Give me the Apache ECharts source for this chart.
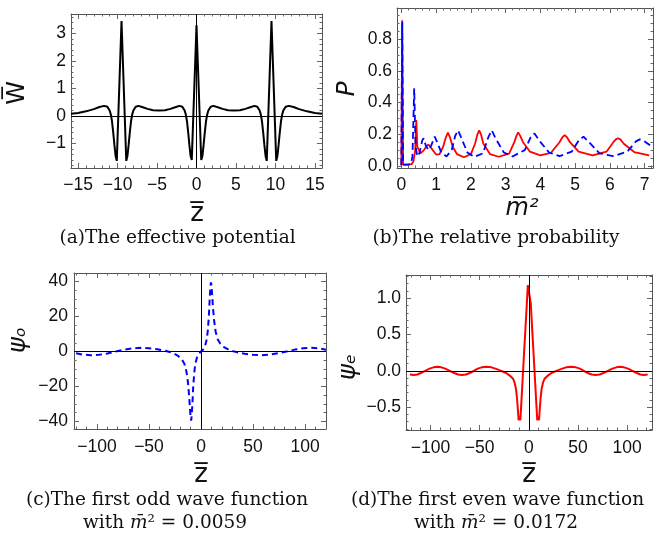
<!DOCTYPE html>
<html><head><meta charset="utf-8">
<script src="https://cdn.jsdelivr.net/npm/echarts@6/dist/echarts.min.js"></script>
<style>html,body{margin:0;padding:0;background:#fff}#c{width:665px;height:539px}</style>
</head><body><div id="c"></div>
<script>
// ---------- (a) effective potential ----------
const potential = [
 [-15.9,0.08],[-15,0.11],[-14,0.17],[-13,0.25],[-12.3,0.33],[-11.7,0.37],[-11.3,0.34],[-11.0,0.2],[-10.85,0.05],[-10.7,-0.2],[-10.55,-0.6],[-10.4,-1.05],[-10.25,-1.45],[-10.1,-1.63],
 [-9.5,3.45],
 [-8.9,-1.63],[-8.75,-1.45],[-8.6,-1.05],[-8.45,-0.6],[-8.3,-0.2],[-8.15,0.05],[-8.0,0.2],[-7.7,0.34],[-7.35,0.37],[-6.9,0.33],[-6.2,0.26],[-5.5,0.21],[-4.75,0.2],
 [-4.0,0.21],[-3.3,0.26],[-2.6,0.33],[-2.15,0.37],[-1.8,0.34],[-1.5,0.2],[-1.35,0.05],[-1.2,-0.2],[-1.05,-0.6],[-0.9,-1.05],[-0.75,-1.45],[-0.6,-1.6],
 [0,3.3],
 [0.6,-1.6],[0.75,-1.45],[0.9,-1.05],[1.05,-0.6],[1.2,-0.2],[1.35,0.05],[1.5,0.2],[1.8,0.34],[2.15,0.37],[2.6,0.33],[3.3,0.26],[4.0,0.21],
 [4.75,0.2],[5.5,0.21],[6.2,0.26],[6.9,0.33],[7.35,0.37],[7.7,0.34],[8.0,0.2],[8.15,0.05],[8.3,-0.2],[8.45,-0.6],[8.6,-1.05],[8.75,-1.45],[8.9,-1.63],
 [9.5,3.45],
 [10.1,-1.63],[10.25,-1.45],[10.4,-1.05],[10.55,-0.6],[10.7,-0.2],[10.85,0.05],[11.0,0.2],[11.3,0.34],[11.7,0.37],[12.3,0.33],[13,0.25],[14,0.17],[15,0.11],[15.9,0.08]
];
const aXTicks = [-15,-10,-5,0,5,10,15];
const aXLabels = ['\u221215','\u221210','\u22125','0','5','10','15'];
const aYTicks = [-1,0,1,2,3];
const aYLabels = ['\u22121','0','1','2','3'];

// ---------- (b) relative probability ----------
const probEven = [
 [0,0.005],[0.025,0.92],[0.05,0.008],[0.1,0.005],[0.2,0.008],[0.3,0.012],[0.35,0.03],[0.4,0.1],[0.43,0.29],[0.46,0.12],[0.55,0.08],[0.65,0.1],[0.72,0.125],[0.78,0.135],[0.84,0.12],[0.92,0.095],
 [1.0,0.072],[1.1,0.075],[1.2,0.12],[1.28,0.18],[1.34,0.21],[1.4,0.18],[1.48,0.12],[1.6,0.075],[1.8,0.055],[2.0,0.075],[2.12,0.14],[2.19,0.2],[2.24,0.225],[2.29,0.2],[2.36,0.14],[2.55,0.075],[2.8,0.058],
 [3.1,0.078],[3.25,0.15],[3.31,0.19],[3.36,0.212],[3.42,0.19],[3.5,0.15],[3.7,0.09],[4.0,0.067],[4.3,0.082],[4.55,0.15],[4.63,0.18],[4.7,0.195],[4.77,0.18],[4.85,0.15],[5.1,0.09],[5.5,0.067],
 [5.9,0.09],[6.1,0.15],[6.17,0.168],[6.23,0.175],[6.3,0.168],[6.4,0.14],[6.7,0.088],[7.13,0.067]
];
const probOdd = [
 [0,0.005],[0.025,0.91],[0.05,0.008],[0.1,0.005],[0.2,0.008],[0.28,0.015],[0.32,0.06],[0.37,0.49],[0.41,0.12],[0.46,0.06],[0.52,0.08],[0.6,0.16],[0.64,0.175],
 [0.7,0.13],[0.78,0.1],[0.86,0.13],[0.96,0.185],[1.05,0.14],[1.15,0.085],[1.3,0.06],[1.45,0.1],[1.55,0.19],[1.63,0.225],[1.72,0.18],[1.9,0.085],[2.1,0.057],
 [2.35,0.08],[2.5,0.18],[2.6,0.225],[2.72,0.17],[2.95,0.085],[3.2,0.06],[3.55,0.1],[3.72,0.18],[3.83,0.205],[3.97,0.16],[4.25,0.085],[4.55,0.062],
 [4.9,0.09],[5.1,0.16],[5.24,0.185],[5.4,0.15],[5.7,0.08],[6.1,0.062],[6.5,0.09],[6.75,0.155],[6.86,0.168],[7.0,0.155],[7.16,0.13]
];
const bXTicks = [0,1,2,3,4,5,6,7];
const bXLabels = ['0','1','2','3','4','5','6','7'];
const bYTicks = [0,0.2,0.4,0.6,0.8];
const bYLabels = ['0.0','0.2','0.4','0.6','0.8'];

// ---------- (c) first odd wave function ----------
const psiOdd = [
 [-120,-1.0],[-113,-1.8],[-106,-2.1],[-98,-1.9],[-90,-1.1],[-82,0],[-74,1.0],[-66,1.8],[-58,2.1],[-50,1.9],[-42,1.3],[-35,0.5],[-30,-0.3],[-26,-1.2],
 [-22,-2.5],[-18.5,-4.5],[-16,-7],[-14,-11.5],[-12.5,-18],[-11.5,-25],[-10.7,-32],[-10,-38],[-9.5,-39.5],[-9,-37],[-8.3,-30],[-7.5,-20],[-6.5,-12],
 [-5.5,-7],[-4,-3.5],[-2,-1.2],[0,0],
 [2,1.2],[4,3.5],[5.5,7],[6.5,12],[7.5,20],[8.3,30],[9,37],[9.5,39.5],[10,38],[10.7,32],[11.5,25],[12.5,18],[14,11.5],[16,7],[18.5,4.5],[22,2.5],
 [26,1.2],[30,0.3],[35,-0.5],[42,-1.3],[50,-1.9],[58,-2.1],[66,-1.8],[74,-1.0],[82,0],[90,1.1],[98,1.9],[106,2.1],[113,1.8],[120,1.0]
];
const cXTicks = [-100,-50,0,50,100];
const cXLabels = ['\u2212100','\u221250','0','50','100'];
const cYTicks = [-40,-20,0,20,40];
const cYLabels = ['\u221240','\u221220','0','20','40'];

// ---------- (d) first even wave function ----------
const psiEven = [
 [-121,-0.05],[-117,-0.058],[-113.5,-0.05],[-110,-0.03],[-105.5,0],[-101,0.03],[-97,0.048],[-93,0.055],[-89,0.048],[-85,0.03],[-80.5,0],[-76,-0.03],
 [-72,-0.05],[-68,-0.058],[-64,-0.05],[-60,-0.03],[-56,0],[-52,0.03],[-48,0.048],[-43,0.055],[-38,0.048],[-34,0.03],[-30,0.01],[-28,0],[-23,-0.03],
 [-19,-0.07],[-16,-0.11],[-14.5,-0.16],[-13,-0.25],[-12,-0.38],[-11.2,-0.52],[-10.4,-0.68],[-9.5,-0.63],[-8.6,-0.68],[-6.5,-0.17],[-5,0.2],[-3.5,0.56],
 [-2,0.93],[-1,1.18],[0,1.19],[1,1.18],[2,0.93],[3.5,0.56],[5,0.2],[6.5,-0.17],[8.6,-0.68],[9.5,-0.63],[10.4,-0.68],[11.2,-0.52],[12,-0.38],[13,-0.25],
 [14.5,-0.16],[16,-0.11],[19,-0.07],[23,-0.03],[28,0],[30,0.01],[34,0.03],[38,0.048],[43,0.055],[48,0.048],[52,0.03],[56,0],[60,-0.03],[64,-0.05],
 [68,-0.058],[72,-0.05],[76,-0.03],[80.5,0],[85,0.03],[89,0.048],[93,0.055],[97,0.048],[101,0.03],[105.5,0],[110,-0.03],[113.5,-0.05],[117,-0.058],[121,-0.05]
];
const dXTicks = [-100,-50,0,50,100];
const dXLabels = ['\u2212100','\u221250','0','50','100'];
const dYTicks = [-0.5,0,0.5,1.0];
const dYLabels = ['\u22120.5','0.0','0.5','1.0'];

// ---------- layout / styling ----------
const FRAME = '#555';
const TICKC = '#666';
const LABEL_FONT = 'Liberation Sans';
const NAME_FONT = 'DejaVu Sans';
const grids = [
 {left:71, top:14, width:251, height:154},
 {left:397, top:8, width:256, height:160},
 {left:74, top:273, width:252, height:156},
 {left:406, top:275, width:246, height:155}
];

function minorVals(min, max, step) {
  const out = [];
  const start = Math.ceil(min / step - 1e-9);
  for (let k = start; k * step <= max + 1e-9; k++) out.push(+(k * step).toFixed(6));
  return out;
}
function makeAxes(dim, g, cfg) {
  const pos = dim === 'x' ? ['bottom', 'top'] : ['left', 'right'];
  const minors = minorVals(cfg.min, cfg.max, cfg.minor);
  const base = {type:'value', gridIndex:g, min:cfg.min, max:cfg.max, splitLine:{show:false}, scale:true};
  const fmt = (v) => {
    let best = 0, bd = Infinity;
    cfg.ticks.forEach((t, i) => { const d = Math.abs(t - v); if (d < bd) { bd = d; best = i; } });
    return cfg.labels[best];
  };
  return [
    Object.assign({}, base, {
      position: pos[0],
      axisLine:{show:true, onZero:false, lineStyle:{color:FRAME, width:1}},
      axisTick:{show:true, inside:true, length:5, customValues:cfg.ticks, lineStyle:{color:TICKC, width:1}},
      axisLabel:{show:true, customValues:cfg.ticks, formatter:fmt, margin:cfg.margin, fontSize:17.5, fontFamily:LABEL_FONT, color:'#111'}
    }),
    Object.assign({}, base, {
      position: pos[1],
      axisLine:{show:true, onZero:false, lineStyle:{color:FRAME, width:1}},
      axisTick:{show:true, inside:true, length:5, customValues:cfg.ticks, lineStyle:{color:TICKC, width:1}},
      axisLabel:{show:false}
    }),
    Object.assign({}, base, {
      position: pos[0],
      axisLine:{show:false, onZero:false},
      axisTick:{show:true, inside:true, length:2.5, customValues:minors, lineStyle:{color:TICKC, width:1}},
      axisLabel:{show:false}
    }),
    Object.assign({}, base, {
      position: pos[1],
      axisLine:{show:false, onZero:false},
      axisTick:{show:true, inside:true, length:2.5, customValues:minors, lineStyle:{color:TICKC, width:1}},
      axisLabel:{show:false}
    })
  ];
}

const xAxes = [].concat(
  makeAxes('x', 0, {min:-15.9, max:15.9, ticks:aXTicks, labels:aXLabels, minor:1, margin:8}),
  makeAxes('x', 1, {min:-0.125, max:7.24, ticks:bXTicks, labels:bXLabels, minor:0.2, margin:8}),
  makeAxes('x', 2, {min:-122, max:120, ticks:cXTicks, labels:cXLabels, minor:10, margin:9}),
  makeAxes('x', 3, {min:-125, max:125.4, ticks:dXTicks, labels:dXLabels, minor:10, margin:9})
);
const yAxes = [].concat(
  makeAxes('y', 0, {min:-1.89, max:3.71, ticks:aYTicks, labels:aYLabels, minor:0.2, margin:5}),
  makeAxes('y', 1, {min:-0.013, max:0.998, ticks:bYTicks, labels:bYLabels, minor:0.05, margin:5}),
  makeAxes('y', 2, {min:-44.3, max:44.9, ticks:cYTicks, labels:cYLabels, minor:5, margin:6}),
  makeAxes('y', 3, {min:-0.815, max:1.32, ticks:dYTicks, labels:dYLabels, minor:0.1, margin:5})
);

const zeroLines = {
  silent:true, symbol:['none','none'], label:{show:false}, animation:false,
  lineStyle:{color:'#000', width:1, type:'solid'},
  data:[{yAxis:0},{xAxis:0}]
};

const series = [
  {type:'line', xAxisIndex:0, yAxisIndex:0, data:potential, showSymbol:false, symbol:'none', lineStyle:{color:'#000', width:2}, markLine:zeroLines, z:3},
  {type:'line', xAxisIndex:4, yAxisIndex:4, data:probEven, showSymbol:false, symbol:'none', lineStyle:{color:'#ff0000', width:1.8}, z:3},
  {type:'line', xAxisIndex:4, yAxisIndex:4, data:probOdd, showSymbol:false, symbol:'none', lineStyle:{color:'#0000ff', width:1.8, type:[7,4]}, z:4},
  {type:'line', xAxisIndex:8, yAxisIndex:8, data:psiOdd, showSymbol:false, symbol:'none', lineStyle:{color:'#0000ff', width:2, type:[6,4]}, markLine:zeroLines, z:3},
  {type:'line', xAxisIndex:12, yAxisIndex:12, data:psiEven, showSymbol:false, symbol:'none', lineStyle:{color:'#ff0000', width:2}, markLine:zeroLines, z:3}
];

const CAP_FONT = 'DejaVu Serif';
const CAP_SIZE = 18.5;
function cap(text, x, y) {
  return {type:'text', x:x, y:y, silent:true, style:{text:text, fontFamily:CAP_FONT, fontSize:CAP_SIZE, fill:'#111', align:'center', verticalAlign:'middle',
    rich:{i:{fontFamily:CAP_FONT, fontSize:CAP_SIZE, fontStyle:'italic', fill:'#111'}}}};
}
function axName(text, x, y, opts) {
  opts = opts || {};
  return {type:'text', x:x, y:y, rotation: opts.rot ? Math.PI / 2 : 0, silent:true,
    style:{text:text, fontFamily:NAME_FONT, fontSize:opts.size || 24, fontStyle:opts.italic ? 'italic' : 'normal', fill:'#111', align:'center', verticalAlign:'middle'}};
}

const chart = echarts.init(document.getElementById('c'), null, {renderer:'canvas'});
chart.setOption({
  animation:false,
  backgroundColor:'#fff',
  grid: grids.map(g => Object.assign({containLabel:false}, g)),
  xAxis: xAxes,
  yAxis: yAxes,
  series: series,
  graphic: [
    axName('z\u0305', 197, 214, {size:26}),
    axName('W\u0305', 18, 93, {rot:true}),
    axName('m\u0305\u00b2', 522, 209, {italic:true}),
    axName('P', 347, 89, {rot:true, italic:true, size:25}),
    axName('z\u0305', 201, 475, {size:26}),
    axName('\u03c8\u2092', 19, 340, {rot:true, italic:true}),
    axName('z\u0305', 529, 475, {size:26}),
    axName('\u03c8\u2091', 349, 367, {rot:true, italic:true}),
    cap('(a)The effective potential', 177.5, 238),
    cap('(b)The relative probability', 496, 238),
    cap('(c)The first odd wave function', 167, 500),
    cap('with {i|m\u0304}\u00b2 = 0.0059', 165, 523),
    cap('(d)The first even wave function', 497.5, 500),
    cap('with {i|m\u0304}\u00b2 = 0.0172', 496, 523)
  ]
});
</script></body></html>
